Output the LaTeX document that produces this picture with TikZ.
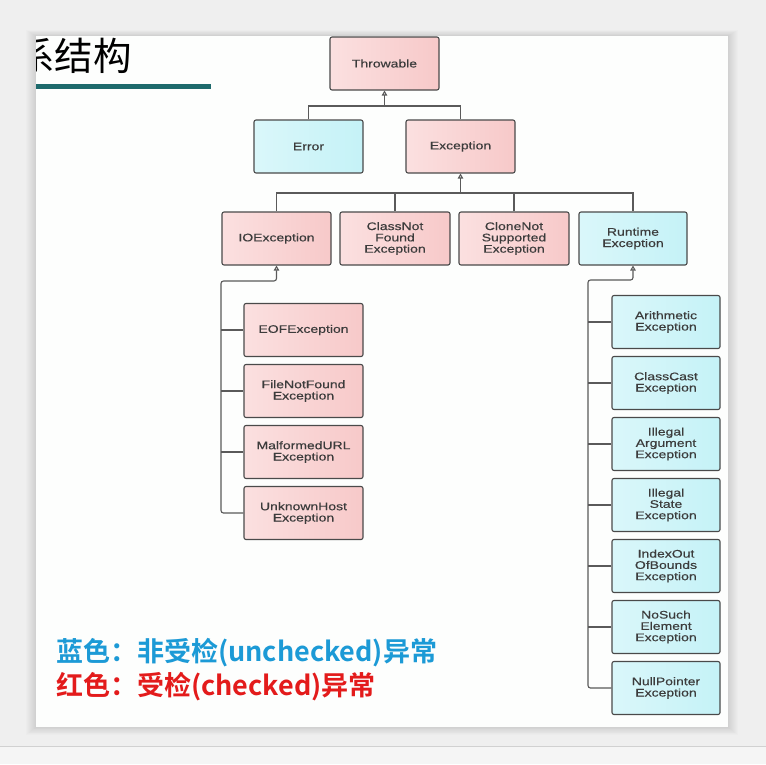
\documentclass[tikz,border=0pt]{standalone}
\usepackage{fontspec}
\setmainfont{Liberation Sans}
\newfontfamily\boxfont{Liberation Sans}[FakeStretch=1.27, FakeBold=0.4]
\newfontfamily\cjk{Noto Sans CJK SC}[BoldFont={Noto Sans CJK SC Bold}]
\usetikzlibrary{arrows.meta}
\definecolor{pagebg}{HTML}{EFEFEF}
\definecolor{slidebg}{HTML}{FDFEFD}
\definecolor{boxline}{HTML}{4A4A4A}
\definecolor{connc}{HTML}{5A5A5A}
\definecolor{boxtext}{HTML}{3C3C3C}
\definecolor{pinkL}{HTML}{FBE0E0}
\definecolor{pinkR}{HTML}{F7C9C9}
\definecolor{cyanL}{HTML}{DAF7FA}
\definecolor{cyanR}{HTML}{C5F2F7}
\definecolor{legblue}{HTML}{1C9AD6}
\definecolor{legred}{HTML}{E31B1B}
\definecolor{tealbar}{HTML}{1E6A6C}
\begin{document}
\begin{tikzpicture}[x=1pt,y=-1pt,
  box/.style={draw=boxline, line width=1.1pt, rounded corners=2pt, align=center,
    font=\boxfont\fontsize{11}{11.3}\selectfont, text=boxtext, inner sep=2pt,
    minimum height=53pt, minimum width=109pt},
  pinkbox/.style={box, left color=pinkL, right color=pinkR},
  cyanbox/.style={box, left color=cyanL, right color=cyanR},
  iobox/.style={pinkbox, minimum width=119pt},
  rtbox/.style={cyanbox, minimum width=108pt},
  conn/.style={draw=connc, line width=1.1pt},
  inh/.style={conn, -{Triangle[open, length=5pt, width=5.5pt]}},
  inhs/.style={conn, {Triangle[open, length=5pt, width=5.5pt]}-, rounded corners=2.5pt},
  legend/.style={anchor=base west, inner sep=0pt, font=\cjk\bfseries\fontsize{27}{27}\selectfont}]
\useasboundingbox (0,0) rectangle (766,764);
% background
\fill[pagebg] (0,0) rectangle (766,764);
\begin{scope}[y=1pt]
  \shade[top color=black!8, bottom color=black!15] (0,764-727) rectangle (766,764-746);
\end{scope}
\fill[black!4] (0,746) rectangle (766,764);
\draw[black!18, line width=0.6pt] (0,746) -- (766,746);
\foreach \i in {1,...,10}
  \fill[black, opacity=0.012] (36-\i,36-0.6*\i) rectangle (728+\i,727+0.8*\i);
\fill[slidebg] (36,36) rectangle (728,727);
% title
\begin{scope}
  \clip (36,36) rectangle (728,727);
  \node[anchor=base west, inner sep=0pt, font=\cjk\fontsize{38.5}{38.5}\selectfont] (title) at (16,70) {系结构};
\end{scope}
\fill[tealbar] (36,84) rectangle (211,88.5);
% boxes
\node[pinkbox] (thr) at (384.5,63.5) {Throwable};
\node[cyanbox] (err) at (308.5,146.5) {Error};
\node[pinkbox] (exc) at (460.5,146.5) {Exception};
\node[pinkbox] (io) at (276.5,238.5) {IOException};
\node[pinkbox, minimum width=110pt] (cnf) at (395,238.5) {ClassNot\\Found\\Exception};
\node[pinkbox, minimum width=110pt] (cns) at (514,238.5) {CloneNot\\Supported\\Exception};
\node[cyanbox, minimum width=108pt] (rt) at (633,238.5) {Runtime\\Exception};
\node[iobox] (eof) at (303.5,330) {EOFException};
\node[iobox] (fnf) at (303.5,391) {FileNotFound\\Exception};
\node[iobox] (mal) at (303.5,452) {MalformedURL\\Exception};
\node[iobox] (uh) at (303.5,513) {UnknownHost\\Exception};
\node[rtbox] (ar) at (666,322) {Arithmetic\\Exception};
\node[rtbox] (cc) at (666,383) {ClassCast\\Exception};
\node[rtbox] (ia) at (666,444) {Illegal\\Argument\\Exception};
\node[rtbox] (is) at (666,505) {Illegal\\State\\Exception};
\node[rtbox] (ioob) at (666,566) {IndexOut\\OfBounds\\Exception};
\node[rtbox] (nse) at (666,627) {NoSuch\\Element\\Exception};
\node[rtbox] (np) at (666,688) {NullPointer\\Exception};
% connectors
\coordinate (j1) at (384.5,106);
\draw[conn] (err.north) |- (j1) -| (exc.north);
\draw[inh] (j1) -- (thr.south);
\coordinate (j2) at (460.5,193);
\draw[conn] (io.north) |- (j2) -| (rt.north);
\draw[conn] (cnf.north) -- (cnf.north |- j2);
\draw[conn] (cns.north) -- (cns.north |- j2);
\draw[inh] (j2) -- (exc.south);
\coordinate (k1) at (221,281);
\draw[inhs] (io.south) |- (k1) |- (uh.west);
\foreach \n in {eof,fnf,mal} \draw[conn] (k1 |- \n.west) -- (\n.west);
\coordinate (k2) at (588,280);
\draw[inhs] (rt.south) |- (k2) |- (np.west);
\foreach \n in {ar,cc,ia,is,ioob,nse} \draw[conn] (k2 |- \n.west) -- (\n.west);
% legend
\node[legend, text=legblue] (lb) at (56,661) {蓝色：非受检(unchecked)异常};
\node[legend, text=legred] (lr) at (56,695) {红色：受检(checked)异常};
\end{tikzpicture}
\end{document}
